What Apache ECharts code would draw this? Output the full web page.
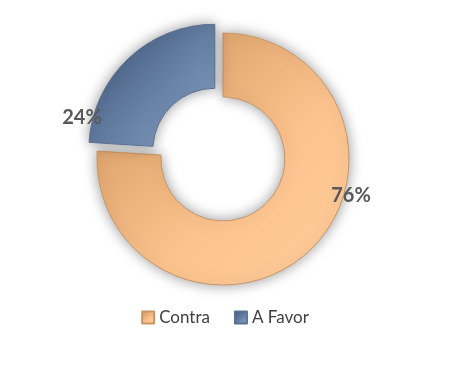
<!DOCTYPE html>
<html>
<head>
<meta charset="utf-8">
<script src="https://cdn.jsdelivr.net/npm/echarts@6/dist/echarts.min.js"></script>
<style>html,body{margin:0;padding:0;background:#fff}#c{width:450px;height:370px}</style>
</head>
<body>
<div id="c"></div>
<script>
var categories = ['Contra', 'A Favor'];
var values = [76, 24];
var labelTexts = ['76%', '24%'];

var gradients = [
  new echarts.graphic.LinearGradient(0, 0, 1, 1, [
    {offset: 0, color: '#cf935a'},
    {offset: 0.6, color: '#fcc38e'},
    {offset: 1, color: '#ffcd9b'}
  ]),
  new echarts.graphic.LinearGradient(0, 0, 1, 1, [
    {offset: 0, color: '#3b5173'},
    {offset: 1, color: '#8aa8cd'}
  ])
];
var borders = ['#c99562', '#5a7092'];
var labelPos = [{x: 351, y: 196}, {x: 82, y: 118}];

var cx = 223, cy = 159, explode = 12;
var total = values.reduce(function (a, b) { return a + b; }, 0);

function centerFor(i) {
  if (i !== 1) return [cx, cy];
  var before = 0;
  for (var k = 0; k < i; k++) before += values[k];
  var midFrac = (before + values[i] / 2) / total;
  var ang = (90 - midFrac * 360) * Math.PI / 180;
  return [cx + explode * Math.cos(ang), cy - explode * Math.sin(ang)];
}

function makeSeries(i) {
  return {
    type: 'pie',
    center: centerFor(i),
    radius: [62, 126],
    startAngle: 90,
    clockwise: true,
    silent: true,
    avoidLabelOverlap: false,
    emphasis: {disabled: true},
    label: {
      show: true,
      position: 'inside',
      fontFamily: 'Lato',
      fontWeight: 'bold',
      fontSize: 20,
      color: '#595959',
      formatter: function (p) { return labelTexts[p.dataIndex]; }
    },
    labelLine: {show: false},
    labelLayout: function (p) {
      if (p.dataIndex !== i) return {};
      return {x: labelPos[i].x, y: labelPos[i].y, align: 'center', verticalAlign: 'middle'};
    },
    z: i === 1 ? 3 : 2,
    data: categories.map(function (n, j) {
      if (j !== i) {
        return {
          name: '_' + n,
          value: values[j],
          label: {show: false},
          itemStyle: {color: 'rgba(0,0,0,0)', borderWidth: 0}
        };
      }
      return {
        name: n,
        value: values[j],
        itemStyle: {
          color: gradients[j],
          borderColor: borders[j],
          borderWidth: 1,
          shadowColor: 'rgba(0,0,0,0.4)',
          shadowBlur: 14
        }
      };
    })
  };
}

var chart = echarts.init(document.getElementById('c'), null, {renderer: 'canvas'});
chart.setOption({
  animation: false,
  legend: {
    bottom: 39,
    left: 'center',
    itemWidth: 12,
    itemHeight: 12,
    itemGap: 24,
    icon: 'rect',
    textStyle: {fontFamily: 'Lato', fontSize: 17, color: '#404040'},
    data: categories
  },
  series: [makeSeries(0), makeSeries(1)]
});
</script>
</body>
</html>
